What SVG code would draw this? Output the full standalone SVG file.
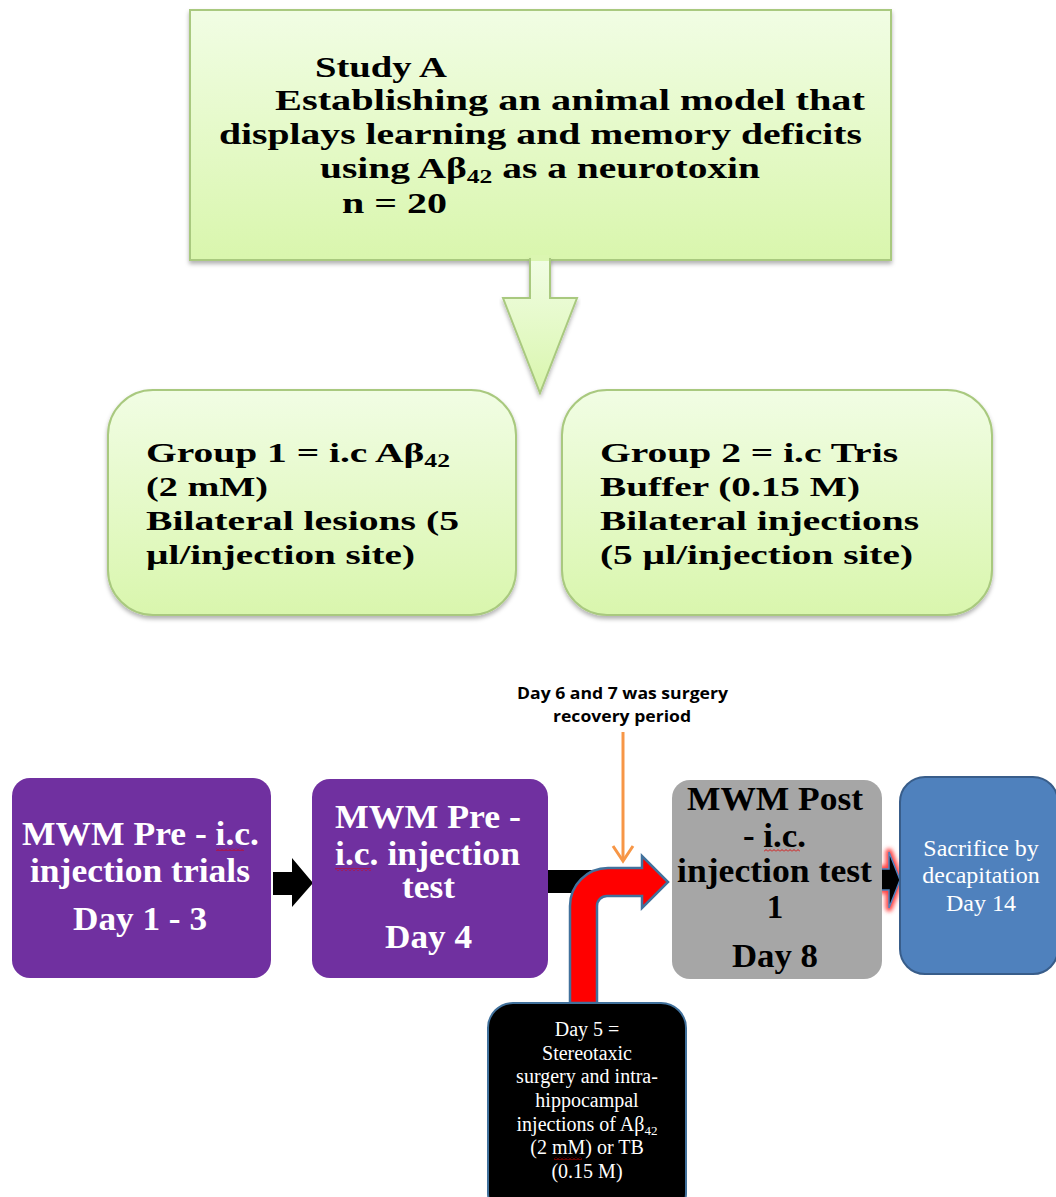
<svg xmlns="http://www.w3.org/2000/svg" width="1056" height="1197" viewBox="0 0 1056 1197">
<style>
.serifB{font-family:"Liberation Serif","Times New Roman",serif;font-weight:bold;}
.serif{font-family:"Liberation Serif","Times New Roman",serif;}
.sansB{font-family:"Open Sans","Liberation Sans",sans-serif;font-weight:bold;}
.green{fill:url(#gGreen);stroke:#a9c97f;stroke-width:2;}
.t30{font-size:30px;fill:#000;}
.t28{font-size:28px;fill:#000;}
.w33{font-size:33px;fill:#fff;}
.k33{font-size:33px;fill:#000;}
.w24{font-size:24px;fill:#fff;}
.w20{font-size:20px;fill:#fff;}
.sub{font-size:0.65em;}
</style>
<defs>
<linearGradient id="gGreen" x1="0" y1="0" x2="0" y2="1">
<stop offset="0" stop-color="#f1fde4"/>
<stop offset="1" stop-color="#d9f6ad"/>
</linearGradient>
<filter id="shadow" x="-5%" y="-5%" width="110%" height="115%">
<feDropShadow dx="0" dy="3" stdDeviation="2" flood-color="#000" flood-opacity="0.3"/>
</filter>
<filter id="glow" x="-100%" y="-30%" width="300%" height="160%">
<feGaussianBlur stdDeviation="2"/>
</filter>
<pattern id="squig" width="4" height="3" patternUnits="userSpaceOnUse">
<path d="M0,2.5 L2,0.5 L4,2.5" fill="none" stroke="#e00000" stroke-width="0.9"/>
</pattern>
</defs>

<g id="study-a">
<rect x="190" y="10" width="701" height="250" class="green" filter="url(#shadow)"/>
<text class="serifB t30" x="315" y="77" textLength="132" lengthAdjust="spacingAndGlyphs">Study A</text>
<text class="serifB t30" x="275" y="110" textLength="590" lengthAdjust="spacingAndGlyphs">Establishing  an animal model that</text>
<text class="serifB t30" x="219" y="144" textLength="643" lengthAdjust="spacingAndGlyphs">displays learning and memory deficits</text>
<text class="serifB t30" x="320" y="178" textLength="440" lengthAdjust="spacingAndGlyphs">using Aβ<tspan class="sub" dy="5">42</tspan><tspan dy="-5"> as a neurotoxin</tspan></text>
<text class="serifB t30" x="342" y="213" textLength="105" lengthAdjust="spacingAndGlyphs">n = 20</text>
</g>

<g id="connectors">
<path d="M530,258 L530,298 L503,298 L540,393 L577,298 L550,298 L550,258" fill="url(#gGreen)" stroke="#a9c97f" stroke-width="2" filter="url(#shadow)"/>
<rect x="531" y="255" width="18" height="6" fill="#dbf6b1"/>
<path d="M273,872 L292,872 L292,858 L313,883 L292,907 L292,895 L273,895 Z" fill="#000"/>
<rect x="548" y="870" width="52" height="23" fill="#000"/>
<path d="M570,1003 L570,906 A38,38 0 0 1 608,868 L642,868 L642,856 L668,882 L642,908 L642,896 L607,896 A10,10 0 0 0 597,906 L597,1003 Z" fill="#ff0000" stroke="#41719c" stroke-width="2.5"/>
<line x1="623" y1="732" x2="623" y2="860" stroke="#f79646" stroke-width="3"/>
<path d="M613,846 L623,861 L633,846" fill="none" stroke="#f79646" stroke-width="3"/>
<path d="M881,869 L889,869 L889,852 L900,880 L889,908 L889,890 L881,890 Z" fill="#ff5050" stroke="#ff4040" stroke-width="7" stroke-linejoin="round" filter="url(#glow)"/>
<path d="M881,869 L889,869 L889,852 L900,880 L889,908 L889,890 L881,890 Z" fill="#000" stroke="#4f81bd" stroke-width="1.5"/>
</g>

<g id="group-1">
<rect x="108" y="390" width="408" height="225" rx="45" class="green" filter="url(#shadow)"/>
<text class="serifB t28" x="146" y="462" textLength="304" lengthAdjust="spacingAndGlyphs">Group 1 = i.c Aβ<tspan class="sub" dy="5">42</tspan></text>
<text class="serifB t28" x="146" y="496" textLength="122" lengthAdjust="spacingAndGlyphs">(2 mM)</text>
<text class="serifB t28" x="146" y="530" textLength="313" lengthAdjust="spacingAndGlyphs">Bilateral lesions (5</text>
<text class="serifB t28" x="146" y="564" textLength="269" lengthAdjust="spacingAndGlyphs">µl/injection site)</text>
</g>

<g id="group-2">
<rect x="562" y="390" width="430" height="225" rx="45" class="green" filter="url(#shadow)"/>
<text class="serifB t28" x="600" y="462" textLength="298" lengthAdjust="spacingAndGlyphs">Group 2 = i.c Tris</text>
<text class="serifB t28" x="600" y="496" textLength="260" lengthAdjust="spacingAndGlyphs">Buffer (0.15 M)</text>
<text class="serifB t28" x="600" y="530" textLength="319" lengthAdjust="spacingAndGlyphs">Bilateral injections</text>
<text class="serifB t28" x="600" y="564" textLength="313" lengthAdjust="spacingAndGlyphs">(5 µl/injection site)</text>
</g>

<g id="recovery-note">
<text class="sansB" font-size="16" x="517" y="699" textLength="211" lengthAdjust="spacingAndGlyphs">Day 6 and 7 was surgery</text>
<text class="sansB" font-size="16" x="553" y="722" textLength="138" lengthAdjust="spacingAndGlyphs">recovery period</text>
</g>

<g id="pre-trials">
<rect x="12" y="778" width="259" height="200" rx="18" fill="#7030a0"/>
<text class="serifB w33" x="22" y="845" textLength="237" lengthAdjust="spacingAndGlyphs">MWM Pre - i.c.</text>
<text class="serifB w33" x="30" y="882" textLength="220" lengthAdjust="spacingAndGlyphs">injection trials</text>
<text class="serifB w33" x="73" y="930" textLength="134" lengthAdjust="spacingAndGlyphs">Day 1 - 3</text>
<rect x="216" y="848" width="28" height="3" fill="url(#squig)"/>
</g>

<g id="pre-test">
<rect x="312" y="779" width="236" height="199" rx="18" fill="#7030a0"/>
<text class="serifB w33" x="335" y="828" textLength="186" lengthAdjust="spacingAndGlyphs">MWM Pre -</text>
<text class="serifB w33" x="335" y="865" textLength="185" lengthAdjust="spacingAndGlyphs">i.c. injection</text>
<text class="serifB w33" x="402" y="898" textLength="53" lengthAdjust="spacingAndGlyphs">test</text>
<text class="serifB w33" x="385" y="948" textLength="87" lengthAdjust="spacingAndGlyphs">Day 4</text>
<rect x="335" y="868" width="36" height="3" fill="url(#squig)"/>
</g>

<g id="post-test">
<rect x="672" y="780" width="210" height="199" rx="18" fill="#a6a6a6"/>
<text class="serifB k33" x="687" y="810" textLength="176" lengthAdjust="spacingAndGlyphs">MWM Post</text>
<text class="serifB k33" x="743" y="847" textLength="63" lengthAdjust="spacingAndGlyphs">- i.c.</text>
<text class="serifB k33" x="677" y="882" textLength="195" lengthAdjust="spacingAndGlyphs">injection test</text>
<text class="serifB k33" x="775" y="918" text-anchor="middle">1</text>
<text class="serifB k33" x="732" y="967" textLength="86" lengthAdjust="spacingAndGlyphs">Day 8</text>
<rect x="764" y="849" width="36" height="3" fill="url(#squig)"/>
</g>

<g id="sacrifice">
<rect x="900" y="777" width="158" height="197" rx="25" fill="#4f81bd" stroke="#385d8a" stroke-width="2"/>
<text class="serif w24" x="981" y="856" text-anchor="middle">Sacrifice by</text>
<text class="serif w24" x="981" y="883" text-anchor="middle">decapitation</text>
<text class="serif w24" x="981" y="911" text-anchor="middle">Day 14</text>
</g>

<g id="surgery">
<rect x="488" y="1003" width="198" height="215" rx="25" fill="#000" stroke="#41719c" stroke-width="2"/>
<text class="serif w20" x="587" y="1036" text-anchor="middle">Day 5 =</text>
<text class="serif w20" x="587" y="1060" text-anchor="middle">Stereotaxic</text>
<text class="serif w20" x="587" y="1083" text-anchor="middle">surgery and intra-</text>
<text class="serif w20" x="587" y="1107" text-anchor="middle">hippocampal</text>
<text class="serif w20" x="587" y="1131" text-anchor="middle">injections  of Aβ<tspan class="sub" dy="4">42</tspan></text>
<text class="serif w20" x="587" y="1154" text-anchor="middle">(2 mM) or TB</text>
<text class="serif w20" x="587" y="1178" text-anchor="middle">(0.15 M)</text>
<rect x="554" y="1157" width="28" height="3" fill="url(#squig)"/>
</g>
</svg>
